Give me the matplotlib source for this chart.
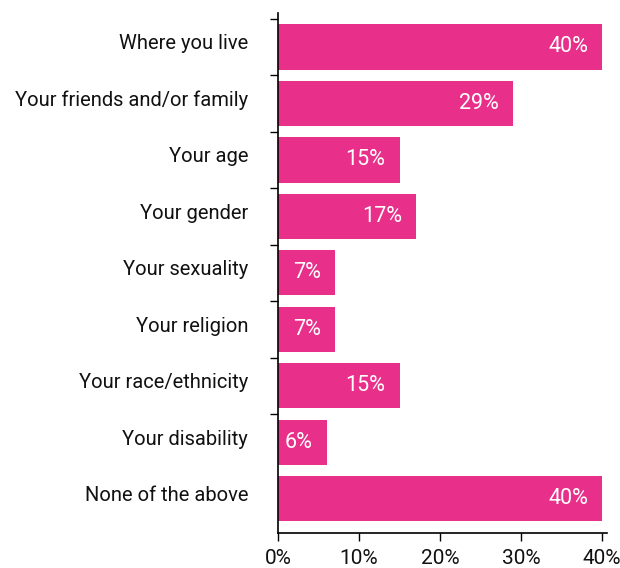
import numpy as np
import matplotlib
matplotlib.use("Agg")
import matplotlib.pyplot as plt
import matplotlib.transforms as mtransforms

categories = ["Where you live", "Your friends and/or family", "Your age",
              "Your gender", "Your sexuality", "Your religion",
              "Your race/ethnicity", "Your disability", "None of the above"]
values = [40, 29, 15, 17, 7, 7, 15, 6, 40]
xticks = [0, 10, 20, 30, 40]

pink = "#E8308A"
plt.rcParams["font.family"] = ["Roboto", "DejaVu Sans"]

fig = plt.figure(figsize=(6.2, 5.68), dpi=100)
ax = fig.add_axes([0.4484, 0.0622, 0.979 - 0.4484, 0.977 - 0.0622])

y = np.arange(len(categories))
bars = ax.barh(y, values, height=0.8, color=pink)
for b, v in zip(bars, values):
    ax.annotate(f"{v}%", (b.get_width(), b.get_y() + b.get_height() / 2),
                xytext=(-14, 0), textcoords="offset pixels",
                ha="right", va="center", color="white", fontsize=15.5)

ax.set_ylim(len(categories) - 0.4, -0.6)
ax.set_xlim(0, 40.6)
ax.set_yticks(y)
ax.set_yticklabels(categories, fontsize=14.5, color="#111111")
ax.tick_params(axis="y", which="major", length=0, pad=21.5)
# nudge category labels up a little
lift = mtransforms.ScaledTranslation(0, 5 / 100, fig.dpi_scale_trans)
for lbl in ax.get_yticklabels():
    lbl.set_transform(lbl.get_transform() + lift)
ax.set_yticks(np.arange(len(categories) - 1) - 0.5, minor=True)
ax.tick_params(axis="y", which="minor", length=6, width=1)

ax.set_xticks(xticks)
ax.set_xticklabels([f"{t}%" for t in xticks], fontsize=15, color="#111111")
ax.tick_params(axis="x", length=6, width=1, pad=6)

for s in ["top", "right"]:
    ax.spines[s].set_visible(False)
for s in ["left", "bottom"]:
    ax.spines[s].set_linewidth(1.2)

fig.savefig("out.png", dpi=100)
